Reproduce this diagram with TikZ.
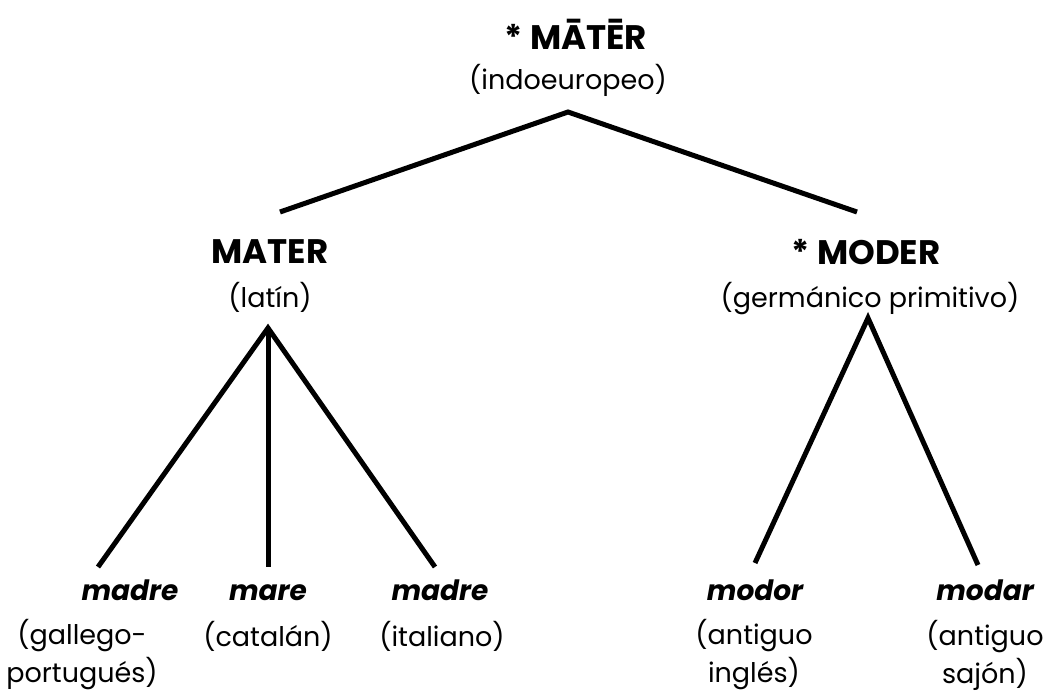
\documentclass[tikz,border=0pt]{standalone}
\usepackage{fontspec}
\setmainfont{Poppins}
\begin{document}
\begin{tikzpicture}[x=1pt,y=-1pt,
  lbl/.style={align=center,inner sep=0pt,font=\fontsize{27}{38}\selectfont},
  head/.style={inner sep=0pt,anchor=base,font=\fontsize{34}{38}\selectfont\bfseries},
  leaf/.style={inner sep=0pt,anchor=base,font=\fontsize{28}{32}\selectfont\bfseries\itshape},
  branch/.style={line width=5pt}]
\useasboundingbox (0,0) rectangle (1049,693);
\node[head] (ieh) at (576,50) {* MĀTĒR};
\node[lbl] (iel) at (568,80) {(indoeuropeo)};
\node[head] (lah) at (270,263) {MATER};
\node[lbl] (lal) at (270,297) {(latín)};
\node[head] (geh) at (866,264) {* MODER};
\node[lbl] (gel) at (870,299) {(germánico primitivo)};
\node[leaf] (m1) at (130,600) {madre};
\node[lbl] (l1) at (82,655) {(gallego-\\portugués)};
\node[leaf] (m2) at (268,600) {mare};
\node[lbl] (l2) at (268,636) {(catalán)};
\node[leaf] (m3) at (440,600) {madre};
\node[lbl] (l3) at (442,636) {(italiano)};
\node[leaf] (m4) at (755,600) {modor};
\node[lbl] (l4) at (754,655) {(antiguo\\inglés)};
\node[leaf] (m5) at (985,600) {modar};
\node[lbl] (l5) at (985,655) {(antiguo\\sajón)};
\coordinate (ietop) at (568,112);
\coordinate (latop) at (280,212);
\coordinate (getop) at (857,212);
\coordinate (labot) at (268,328);
\coordinate (gebot) at (868,318);
\coordinate (e1) at (98,567);
\coordinate (e2) at (268,567);
\coordinate (e3) at (435,567);
\coordinate (e4) at (755,563);
\coordinate (e5) at (978,565);
\draw[branch] (latop) -- (ietop) -- (getop);
\draw[branch] (e1) -- (labot) -- (e3);
\draw[branch] (labot) -- (e2);
\draw[branch] (e4) -- (gebot) -- (e5);
\end{tikzpicture}
\end{document}
